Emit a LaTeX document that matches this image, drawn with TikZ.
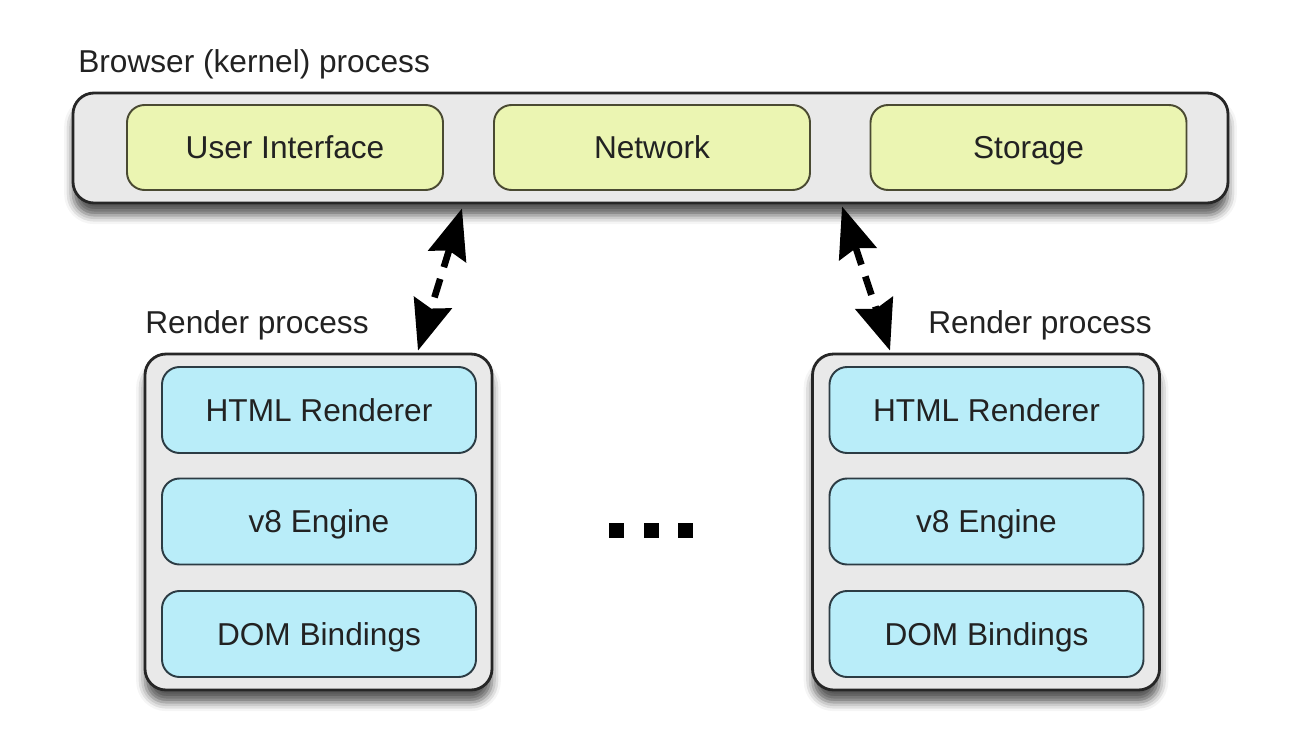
\documentclass[tikz,border=0pt]{standalone}
\usepackage{fontspec}
\setmainfont{Liberation Sans}
\usetikzlibrary{arrows.meta}
\usetikzlibrary{shadows.blur}

\definecolor{kernfill}{HTML}{E9E9E9}
\definecolor{modfill}{HTML}{EBF5B2}
\definecolor{modline}{HTML}{4A4A32}
\definecolor{rendfill}{HTML}{B9EDF9}
\definecolor{rendline}{HTML}{2C3C44}
\definecolor{txt}{HTML}{222222}

\tikzset{
 proc/.style={draw=black!85,line width=1.6pt,fill=kernfill,rounded corners=12pt,
   blur shadow={shadow xshift=0pt,shadow yshift=-7pt,shadow blur radius=5pt,shadow opacity=65}},
 kmod/.style={draw=modline,line width=1.1pt,fill=modfill,rounded corners=10pt,
   minimum width=6.32cm,minimum height=1.7cm,text=txt,text height=12.9pt,text depth=0pt,
   font=\fontsize{18}{21}\selectfont},
 rmod/.style={draw=rendline,line width=1.1pt,fill=rendfill,rounded corners=10pt,
   minimum width=6.28cm,minimum height=1.72cm,text=txt,text height=12.9pt,text depth=0pt,
   font=\fontsize{18}{21}\selectfont},
 lbl/.style={anchor=base west,inner sep=0pt,text=txt,font=\fontsize{18}{21}\selectfont},
 ipc/.style={line width=3.8pt,dash pattern=on 11pt off 7pt,
   {Stealth[length=1.0cm,width=0.78cm,inset=0.12cm]}-{Stealth[length=1.0cm,width=0.78cm,inset=0.12cm]}}
}

\begin{document}
\begin{tikzpicture}
\useasboundingbox (0,0) rectangle (25.92,-15.04);
% browser (kernel) process
 \node[lbl] (kernlbl) at (1.56,-1.44) {Browser (kernel) process};
 \node[proc,minimum width=23.1cm,minimum height=2.2cm] (kernel) at (13.01,-2.96) {};
 \node[kmod] (ui) at (5.7,-2.95) {User Interface};
 \node[kmod] (net) at (13.04,-2.95) {Network};
 \node[kmod] (store) at (20.57,-2.95) {Storage};
% render process, left
 \node[lbl] (llbl) at (2.9,-6.66) {Render process};
 \node[proc,minimum width=6.94cm,minimum height=6.72cm] (lrender) at (6.37,-10.44) {};
 \node[rmod] (lhtml) at (6.38,-8.2) {HTML Renderer};
 \node[rmod] (lv8) at (6.38,-10.43) {v8 Engine};
 \node[rmod] (ldom) at (6.38,-12.68) {DOM Bindings};
% render process, right
 \node[lbl] (rlbl) at (18.56,-6.66) {Render process};
 \node[proc,minimum width=6.94cm,minimum height=6.72cm] (rrender) at (19.72,-10.44) {};
 \node[rmod] (rhtml) at (19.73,-8.2) {HTML Renderer};
 \node[rmod] (rv8) at (19.73,-10.43) {v8 Engine};
 \node[rmod] (rdom) at (19.73,-12.68) {DOM Bindings};
% ipc links
 \coordinate (lk) at ([xshift=-3.77cm,yshift=-0.08cm]kernel.south);
 \coordinate (rk) at ([xshift=3.83cm,yshift=-0.04cm]kernel.south);
 \coordinate (lr) at ([xshift=1.99cm,yshift=0.04cm]lrender.north);
 \coordinate (rr) at ([xshift=-1.92cm,yshift=0.04cm]rrender.north);
 \draw[ipc] (lk)--(lr);
 \draw[ipc] (rk)--(rr);
% dots
\foreach \x in {12.32,13.03,13.7}
 \fill[black] (\x-0.15,-10.45) rectangle (\x+0.15,-10.75);
\end{tikzpicture}
\end{document}
